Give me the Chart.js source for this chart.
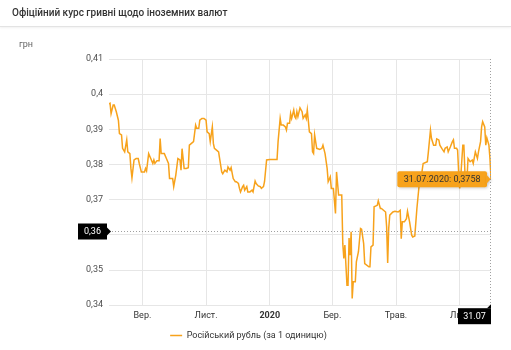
<!DOCTYPE html>
<html lang="uk">
<head>
<meta charset="utf-8">
<title>Офіційний курс гривні щодо іноземних валют</title>
<script src="https://cdn.jsdelivr.net/npm/chart.js@4.4.1/dist/chart.umd.min.js"></script>
<style>
  html, body { margin: 0; padding: 0; background: #fff; }
  body {
    width: 511px;
    height: 350px;
    position: relative;
    overflow: hidden;
    font-family: Roboto, "Open Sans", sans-serif;
  }
  .chart-header {
    position: absolute;
    left: 0;
    top: 0;
    width: 511px;
    height: 26px;
    border-bottom: 1px solid #e3e3e3;
    box-shadow: 0 1px 2px rgba(0, 0, 0, 0.06);
    z-index: 2;
  }
  .chart-header h1 {
    margin: 0;
    padding: 7px 0 0 12px;
    font-size: 10px;
    line-height: 12px;
    font-weight: 500;
    color: #333;
  }
  #rateChart { position: absolute; left: 0; top: 0; }
</style>
</head>
<body>
<div class="chart-header"><h1>Офіційний курс гривні щодо іноземних валют</h1></div>
<canvas id="rateChart" width="511" height="350"></canvas>

<script>
// ====================================
// DATA (day 0 = 31.07.2019)
// ====================================
const days = [
  0, 1, 2, 4, 5, 7, 9, 10, 12, 13, 15, 17, 18, 20, 21, 22, 24, 26, 28, 29,
  31, 34, 35, 36, 38, 40, 42, 43, 44, 46, 48, 49, 50, 53, 55, 57, 58, 61, 62, 64,
  66, 68, 69, 70, 72, 74, 76, 77, 79, 81, 83, 84, 86, 87, 89, 91, 93, 94, 96, 97,
  99, 100, 101, 103, 105, 106, 108, 109, 111, 113, 114, 116, 117, 119, 121, 122, 124, 125, 126, 128,
  129, 130, 132, 133, 135, 137, 138, 140, 141, 143, 145, 146, 148, 149, 151, 154, 157, 161, 162, 164,
  165, 167, 169, 170, 171, 173, 174, 175, 177, 178, 179, 180, 181, 183, 185, 186, 188, 189, 190, 192,
  194, 195, 196, 197, 199, 202, 204, 205, 207, 209, 210, 212, 213, 215, 217, 218, 220, 223, 224, 225,
  226, 228, 229, 230, 231, 232, 233, 234, 236, 237, 239, 241, 242, 244, 245, 249, 250, 251, 253, 254,
  257, 258, 260, 261, 265, 266, 267, 268, 269, 272, 274, 277, 279, 280, 281, 283, 285, 286, 288, 290,
  291, 293, 295, 297, 298, 301, 305, 306, 308, 309, 311, 313, 314, 316, 317, 319, 321, 322, 324, 325,
  327, 329, 330, 331, 333, 334, 335, 336, 337, 339, 340, 341, 343, 344, 346, 348, 349, 351, 353, 354,
  356, 357, 358, 360, 361, 362, 364, 365, 366
];

const rates = [
  0.3972, 0.3974, 0.3945, 0.3969, 0.3969, 0.3950, 0.3926, 0.3888, 0.3884, 0.3846, 0.3836, 0.3870, 0.3836, 0.3831, 0.3789, 0.3762, 0.3813, 0.3817, 0.3817, 0.3803,
  0.3779, 0.3779, 0.3789, 0.3782, 0.3831, 0.3817, 0.3803, 0.3813, 0.3803, 0.3811, 0.3811, 0.3874, 0.3831, 0.3831, 0.3817, 0.3803, 0.3760, 0.3760, 0.3737, 0.3770,
  0.3817, 0.3813, 0.3784, 0.3845, 0.3789, 0.3789, 0.3791, 0.3855, 0.3860, 0.3865, 0.3912, 0.3903, 0.3903, 0.3926, 0.3931, 0.3931, 0.3926, 0.3893, 0.3888, 0.3865,
  0.3907, 0.3860, 0.3846, 0.3841, 0.3836, 0.3817, 0.3779, 0.3774, 0.3784, 0.3779, 0.3793, 0.3784, 0.3791, 0.3760, 0.3751, 0.3751, 0.3746, 0.3732, 0.3722, 0.3737,
  0.3741, 0.3727, 0.3737, 0.3722, 0.3722, 0.3727, 0.3722, 0.3753, 0.3746, 0.3739, 0.3737, 0.3732, 0.3737, 0.3751, 0.3813, 0.3814, 0.3814, 0.3814, 0.3865, 0.3931,
  0.3912, 0.3912, 0.3907, 0.3898, 0.3917, 0.3917, 0.3945, 0.3931, 0.3955, 0.3936, 0.3931, 0.3950, 0.3936, 0.3961, 0.3950, 0.3931, 0.3941, 0.3931, 0.3955, 0.3893,
  0.3888, 0.3836, 0.3831, 0.3884, 0.3846, 0.3843, 0.3846, 0.3855, 0.3831, 0.3789, 0.3751, 0.3765, 0.3732, 0.3732, 0.3661, 0.3779, 0.3713, 0.3713, 0.3575, 0.3533,
  0.3571, 0.3457, 0.3457, 0.3591, 0.3542, 0.3609, 0.3419, 0.3467, 0.3467, 0.3523, 0.3552, 0.3618, 0.3616, 0.3575, 0.3518, 0.3509, 0.3509, 0.3566, 0.3571, 0.3680,
  0.3684, 0.3697, 0.3675, 0.3675, 0.3665, 0.3623, 0.3520, 0.3618, 0.3656, 0.3665, 0.3667, 0.3665, 0.3670, 0.3589, 0.3637, 0.3637, 0.3646, 0.3667, 0.3637, 0.3599,
  0.3594, 0.3597, 0.3675, 0.3737, 0.3741, 0.3803, 0.3808, 0.3836, 0.3898, 0.3874, 0.3855, 0.3855, 0.3873, 0.3870, 0.3855, 0.3845, 0.3836, 0.3846, 0.3850, 0.3836,
  0.3850, 0.3865, 0.3870, 0.3846, 0.3846, 0.3841, 0.3779, 0.3732, 0.3765, 0.3855, 0.3855, 0.3779, 0.3760, 0.3817, 0.3808, 0.3813, 0.3803, 0.3836, 0.3817, 0.3836,
  0.3865, 0.3907, 0.3922, 0.3907, 0.3855, 0.3876, 0.3855, 0.3817, 0.3758
];

// month ticks (days from 31.07.2019)
const monthTicks = [32, 93, 154, 214, 275, 336];
const monthLabels = ["Вер.", "Лист.", "2020", "Бер.", "Трав.", "Лип."];

const seriesName = "Російський рубль (за 1 одиницю)";
const unitLabel = "грн";
const lastDateLabel = "31.07.2020";
const lastShortLabel = "31.07";
const crosshairRate = 0.3612;

const lineColor = "#f7a21b";
const fontFamily = "Roboto, 'Open Sans', sans-serif";

function formatRate(v, digits) {
  return Number(v.toFixed(digits)).toString().replace(".", ",");
}

// ====================================
// CROSSHAIR + TOOLTIP PLUGIN
// ====================================
const crosshairPlugin = {
  id: "crosshair",
  afterDatasetsDraw(chart) {
    const ctx = chart.ctx;
    const area = chart.chartArea;
    const xs = chart.scales.x;
    const ys = chart.scales.y;
    const last = days.length - 1;
    const px = xs.getPixelForValue(days[last]);
    const py = ys.getPixelForValue(rates[last]);
    const hy = Math.round(ys.getPixelForValue(crosshairRate)) + 0.5;

    ctx.save();
    ctx.font = "9px " + fontFamily;
    ctx.textBaseline = "middle";

    // unit label above axis
    ctx.fillStyle = "#666";
    ctx.textAlign = "left";
    ctx.fillText(unitLabel, 19, area.top - 14);

    // dotted crosshair lines
    ctx.strokeStyle = "#a0a0a0";
    ctx.lineWidth = 1;
    ctx.setLineDash([1, 2]);
    ctx.beginPath();
    ctx.moveTo(area.left, hy);
    ctx.lineTo(area.right, hy);
    ctx.stroke();
    ctx.beginPath();
    ctx.moveTo(Math.round(px) - 0.5, area.top);
    ctx.lineTo(Math.round(px) - 0.5, area.bottom);
    ctx.stroke();
    ctx.setLineDash([]);

    // y crosshair label
    ctx.fillStyle = "#000";
    ctx.fillRect(area.left - 31, hy - 8, 29, 16);
    ctx.beginPath();
    ctx.moveTo(area.left - 2, hy - 4);
    ctx.lineTo(area.left + 2, hy);
    ctx.lineTo(area.left - 2, hy + 4);
    ctx.fill();
    ctx.fillStyle = "#fff";
    ctx.textAlign = "center";
    ctx.fillText(formatRate(crosshairRate, 2), area.left - 16.5, hy + 0.5);

    // x crosshair label
    ctx.fillStyle = "#000";
    ctx.fillRect(px - 33, area.bottom + 3, 33, 16);
    ctx.beginPath();
    ctx.moveTo(px - 4, area.bottom + 3);
    ctx.lineTo(px, area.bottom - 1);
    ctx.lineTo(px, area.bottom + 3);
    ctx.fill();
    ctx.fillStyle = "#fff";
    ctx.fillText(lastShortLabel, px - 16.5, area.bottom + 11.5);

    // tooltip
    const text = lastDateLabel + ": " + formatRate(rates[last], 4);
    const w = ctx.measureText(text).width + 13;
    const h = 16;
    const right = px - 4;
    const left = right - w;
    const top = py - h / 2;
    ctx.shadowColor = "rgba(0,0,0,0.2)";
    ctx.shadowBlur = 3;
    ctx.shadowOffsetX = 1;
    ctx.shadowOffsetY = 1;
    ctx.fillStyle = lineColor;
    ctx.beginPath();
    ctx.roundRect(left, top, w, h, 2);
    ctx.fill();
    ctx.beginPath();
    ctx.moveTo(right - 1, py - 5);
    ctx.lineTo(px - 0.5, py);
    ctx.lineTo(right - 1, py + 5);
    ctx.fill();
    ctx.shadowColor = "transparent";
    ctx.fillStyle = "#333";
    ctx.fillText(text, left + w / 2, py + 0.5);

    ctx.restore();
  },
};

// ====================================
// CHART
// ====================================
Chart.defaults.font.family = fontFamily;
Chart.defaults.font.size = 9;
Chart.defaults.color = "#4d4d4d";

const points = days.map((d, i) => ({ x: d, y: rates[i] }));

new Chart(document.getElementById("rateChart"), {
  type: "line",
  data: {
    datasets: [
      {
        label: seriesName,
        data: points,
        borderColor: lineColor,
        backgroundColor: lineColor,
        borderWidth: 1.5,
        pointRadius: 0,
        tension: 0,
        fill: false,
      },
    ],
  },
  options: {
    responsive: false,
    animation: false,
    devicePixelRatio: 1,
    layout: { padding: { top: 59, right: 20, left: 6, bottom: 0 } },
    plugins: {
      legend: {
        position: "bottom",
        labels: {
          usePointStyle: true,
          pointStyle: "line",
          pointStyleWidth: 12,
          color: "#333",
          font: { size: 9 },
          padding: 5,
        },
      },
      tooltip: { enabled: false },
    },
    scales: {
      x: {
        type: "linear",
        min: 0,
        max: 366,
        afterBuildTicks(scale) {
          scale.ticks = monthTicks.map((v) => ({ value: v }));
        },
        ticks: {
          autoSkip: false,
          maxRotation: 0,
          padding: 5,
          color: "#333",
          callback: (value) => monthLabels[monthTicks.indexOf(value)],
          font: (c) => ({
            size: 9,
            weight: c.tick && monthLabels[monthTicks.indexOf(c.tick.value)] === "2020" ? "bold" : "normal",
          }),
        },
        grid: { color: "#e6e6e6", drawTicks: false },
        border: { display: false },
      },
      y: {
        min: 0.34,
        max: 0.41,
        afterFit(scale) {
          scale.width = 103;
        },
        ticks: {
          stepSize: 0.01,
          padding: 6,
          color: "#4d4d4d",
          callback: (value) => formatRate(value, 2),
        },
        grid: { color: "#e6e6e6", drawTicks: false },
        border: { display: false },
      },
    },
  },
  plugins: [crosshairPlugin],
});
</script>
</body>
</html>
